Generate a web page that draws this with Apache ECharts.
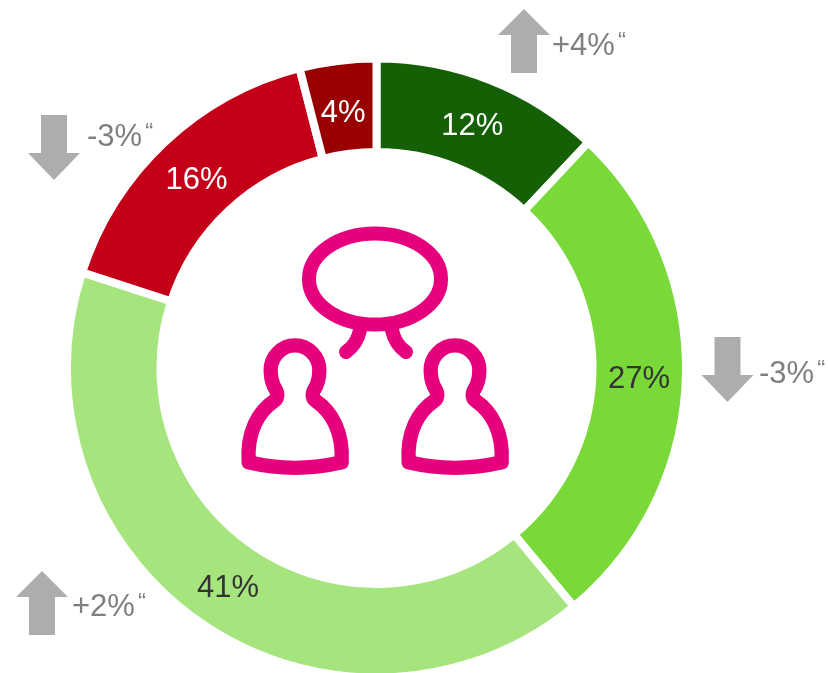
<!DOCTYPE html>
<html><head><meta charset="utf-8">
<style>html,body{margin:0;padding:0;background:#fff}#c{width:828px;height:673px}</style>
<script src="https://cdn.jsdelivr.net/npm/echarts@6/dist/echarts.min.js"></script>
</head><body><div id="c"></div>
<script>
const shares = [12, 27, 41, 16, 4];
const sliceColors = ['#155F05', '#78D939', '#A6E57E', '#C40018', '#990000'];
const labelColors = ['#fff', '#333', '#333', '#fff', '#fff'];
const changes = ['+4%', '-3%', '+2%', '-3%'];

const FONT = '"Liberation Sans", Arial, sans-serif';
const chart = echarts.init(document.getElementById('c'), null, {renderer: 'canvas'});

function arrow(up, cx, top) {
  const pts = up
    ? [[cx,top],[cx+26,top+26],[cx+13,top+26],[cx+13,top+64],[cx-13,top+64],[cx-13,top+26],[cx-26,top+26]]
    : [[cx-13,top],[cx+13,top],[cx+13,top+38],[cx+26,top+38],[cx,top+65],[cx-26,top+38],[cx-13,top+38]];
  return {type:'polygon', shape:{points:pts}, style:{fill:'#ADADAD'}, silent:true};
}
function note(str, x, y) {
  return {type:'text', x, y, silent:true, style:{
    text:'{a|'+str+'}{b|“}', verticalAlign:'middle', align:'left',
    rich:{a:{fontFamily:FONT,fontSize:31,fill:'#7F7F7F'},
          b:{fontFamily:FONT,fontSize:24,fill:'#7F7F7F',verticalAlign:'top',padding:[0,0,7,3]}}
  }};
}
const PINK = '#E6007E';
const personPath = 'M56 742Q195 775 335 742C340 650 305 590 258 558C248 552 245 540 252 525C262 510 268 490 268 465C268 425 235 391 195 391C155 391 122 425 122 465C122 490 128 510 138 525C145 540 142 552 132 558C85 590 50 650 56 742Z';
echarts.graphic.registerShape('personIcon', echarts.graphic.extendPath(personPath, {}));
echarts.graphic.registerShape('legLeft', echarts.graphic.extendPath('M360 330C358 340 353 347 346 352', {}));
echarts.graphic.registerShape('legRight', echarts.graphic.extendPath('M392 330C394 340 399 347 406 352', {}));

const personEls = [0,160].map(dx => ({
  type:'personIcon', x:230+dx, y:215, scaleX:1/3, scaleY:1/3, silent:true,
  style:{fill:'none', stroke:PINK, lineWidth:43, lineJoin:'round', lineCap:'round'}
}));
const legStyle = {fill:'none', stroke:PINK, lineWidth:14, lineCap:'round'};
const nudge = [[-2,6],[-3,3],[1,1],[2,6],[0,9]];

chart.setOption({
  animation:false,
  backgroundColor:'#fff',
  series:[{
    type:'pie', center:[376.5,368], radius:[216,309.5],
    startAngle:90, clockwise:true, silent:true,
    itemStyle:{borderColor:'#fff', borderWidth:8},
    labelLine:{show:false},
    labelLayout:(p)=>({dx:nudge[p.dataIndex][0], dy:nudge[p.dataIndex][1]}),
    data:shares.map((v,i)=>({value:v,name:v+'%',
      itemStyle:{color:sliceColors[i]},
      label:{show:true, position:'inside', formatter:v+'%', fontFamily:FONT, fontSize:31, color:labelColors[i], textBorderWidth:0, textShadowBlur:0}}))
  }],
  graphic:[
    arrow(true,524,9), note(changes[0],552,46),
    arrow(false,727.5,337), note(changes[1],759,374),
    arrow(true,42,571), note(changes[2],72,607),
    arrow(false,54,115), note(changes[3],87,137),
    {type:'ellipse', silent:true, shape:{cx:375,cy:279,rx:66,ry:45.5}, style:{fill:'none', stroke:PINK, lineWidth:14}},
    {type:'legLeft', silent:true, style:legStyle},
    {type:'legRight', silent:true, style:legStyle},
    ...personEls
  ]
});
</script></body></html>
